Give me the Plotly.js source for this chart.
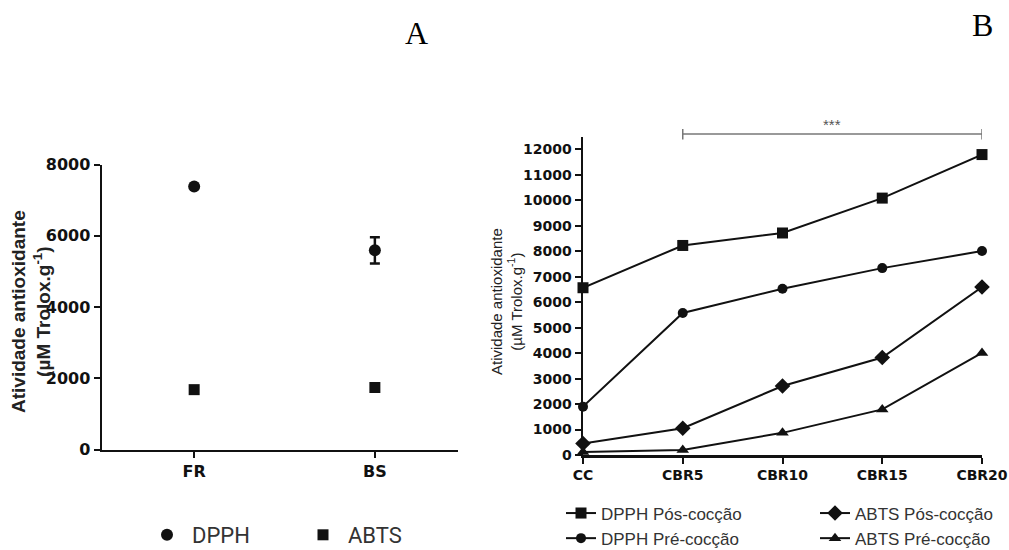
<!DOCTYPE html>
<html>
<head>
<meta charset="utf-8">
<script src="https://cdn.plot.ly/plotly-3.0.1.min.js"></script>
<style>html,body{margin:0;padding:0;background:#fff;}#chart{width:1009px;height:550px;}</style>
</head>
<body>
<div id="chart"></div>
<script>
// ---- Panel A data ----
const categoriesA = ['FR', 'BS'];
const dpphA = [7380, 5590];
const dpphAErr = [0, 370];
const abtsA = [1680, 1740];

// ---- Panel B data ----
const categoriesB = ['CC', 'CBR5', 'CBR10', 'CBR15', 'CBR20'];
const dpphPos = [6570, 8230, 8720, 10090, 11800];
const dpphPre = [1900, 5580, 6530, 7340, 8010];
const abtsPos = [450, 1050, 2710, 3830, 6600];
const abtsPre = [120, 200, 870, 1790, 4010];

const tickValsA = [0, 2000, 4000, 6000, 8000];
const tickValsB = [0,1000,2000,3000,4000,5000,6000,7000,8000,9000,10000,11000,12000];

const W = 1009, H = 550;
const px = v => v / W;
const py = v => (H - v) / H;

const blk = '#111';
const legFontB = {family: 'Liberation Sans, Arial, sans-serif', size: 17, color: '#333'};
const legFontA = {family: 'Liberation Sans Narrow, Roboto, Liberation Sans, sans-serif', size: 22, color: '#333'};

const traces = [
  {x: categoriesA, y: dpphA, type: 'scatter', mode: 'markers', name: 'DPPH',
   xaxis: 'x', yaxis: 'y', legend: 'legend',
   marker: {symbol: 'circle', size: 12, color: blk},
   error_y: {type: 'data', array: dpphAErr, visible: true, color: blk, thickness: 2.5, width: 5},
   cliponaxis: false},
  {x: categoriesA, y: abtsA, type: 'scatter', mode: 'markers', name: 'ABTS',
   xaxis: 'x', yaxis: 'y', legend: 'legend2',
   marker: {symbol: 'square', size: 11, color: blk}, cliponaxis: false},

  {x: categoriesB, y: dpphPos, type: 'scatter', mode: 'lines+markers', name: 'DPPH Pós-cocção',
   xaxis: 'x2', yaxis: 'y2', legend: 'legend3', legendgroup: 'g1',
   line: {color: blk, width: 2}, marker: {symbol: 'square', size: 11, color: blk}, cliponaxis: false},
  {x: categoriesB, y: dpphPre, type: 'scatter', mode: 'lines+markers', name: 'DPPH Pré-cocção',
   xaxis: 'x2', yaxis: 'y2', legend: 'legend3', legendgroup: 'g2',
   line: {color: blk, width: 2}, marker: {symbol: 'circle', size: 10, color: blk}, cliponaxis: false},
  {x: categoriesB, y: abtsPos, type: 'scatter', mode: 'lines+markers', name: 'ABTS Pós-cocção',
   xaxis: 'x2', yaxis: 'y2', legend: 'legend4', legendgroup: 'g3',
   line: {color: blk, width: 2}, marker: {symbol: 'diamond', size: 12, color: blk}, cliponaxis: false},
  {x: categoriesB, y: abtsPre, type: 'scatter', mode: 'lines+markers', name: 'ABTS Pré-cocção',
   xaxis: 'x2', yaxis: 'y2', legend: 'legend4', legendgroup: 'g4',
   line: {color: blk, width: 2}, marker: {symbol: 'triangle-up', size: 11, color: blk}, cliponaxis: false}
];

const tickFontA = {family: 'DejaVu Sans, sans-serif', size: 16, color: '#111', weight: 'bold'};
const tickFontB = {family: 'DejaVu Sans, sans-serif', size: 14, color: '#111', weight: 'bold'};

const axisCommon = {showline: true, linecolor: blk, linewidth: 2.5, ticks: 'outside', ticklen: 6,
  tickwidth: 2, tickcolor: blk, showgrid: false, zeroline: false, fixedrange: true};

const legendBase = {orientation: 'v', bgcolor: 'rgba(0,0,0,0)', borderwidth: 0,
  xanchor: 'left', yanchor: 'middle', tracegroupgap: 0, itemclick: false};

const layout = {
  width: W, height: H,
  margin: {l: 0, r: 0, t: 0, b: 0, autoexpand: false},
  paper_bgcolor: '#fff', plot_bgcolor: '#fff',
  showlegend: true,
  xaxis: Object.assign({}, axisCommon, {
    type: 'category', categoryorder: 'array', categoryarray: categoriesA,
    range: [-0.51, 1.46], domain: [px(102), px(458)], anchor: 'y',
    tickfont: tickFontA}),
  yaxis: Object.assign({}, axisCommon, {
    range: [0, 8000], tickvals: tickValsA, tickformat: 'd', domain: [py(449.5), py(164.5)], anchor: 'x',
    tickfont: tickFontA}),
  xaxis2: Object.assign({}, axisCommon, {
    type: 'category', categoryorder: 'array', categoryarray: categoriesB,
    range: [0, 4], domain: [px(583), px(982)], anchor: 'y2',
    tickfont: tickFontB}),
  yaxis2: Object.assign({}, axisCommon, {
    range: [0, 12490], tickvals: tickValsB, tickformat: 'd', domain: [py(455), py(137)], anchor: 'x2',
    tickfont: tickFontB}),
  legend: Object.assign({}, legendBase, {x: px(142), y: py(535), font: legFontA, itemwidth: 40}),
  legend2: Object.assign({}, legendBase, {x: px(298), y: py(535), font: legFontA, itemwidth: 40}),
  legend3: Object.assign({}, legendBase, {x: px(561), y: py(526), font: legFontB}),
  legend4: Object.assign({}, legendBase, {x: px(815), y: py(526), font: legFontB}),
  shapes: [
    {type: 'line', xref: 'x2', yref: 'paper', x0: 1, x1: 4, y0: py(134), y1: py(134),
     line: {color: '#777', width: 1.5}},
    {type: 'line', xref: 'x2', yref: 'paper', x0: 1, x1: 1, y0: py(129), y1: py(139.5),
     line: {color: '#777', width: 1.5}},
    {type: 'line', xref: 'x2', yref: 'paper', x0: 4, x1: 4, y0: py(129), y1: py(139.5),
     line: {color: '#777', width: 1.5}}
  ],
  annotations: [
    {text: 'A', xref: 'paper', yref: 'paper', x: px(416.5), y: py(33), xanchor: 'center', yanchor: 'middle',
     showarrow: false, font: {family: 'Liberation Serif, Times New Roman, serif', size: 32, color: '#000'}},
    {text: 'B', xref: 'paper', yref: 'paper', x: px(982.5), y: py(25), xanchor: 'center', yanchor: 'middle',
     showarrow: false, font: {family: 'Liberation Serif, Times New Roman, serif', size: 32, color: '#000'}},
    {text: '***', xref: 'x2', yref: 'paper', x: 2.5, y: py(124), xanchor: 'center', yanchor: 'middle',
     showarrow: false, font: {family: 'Liberation Sans, Arial, sans-serif', size: 15, color: '#555'}},
    {text: '<b>Atividade antioxidante<br>(µM Trolox.g<sup>-1</sup>)</b>', xref: 'paper', yref: 'paper',
     x: px(31), y: py(312), xanchor: 'center', yanchor: 'middle', textangle: -90, showarrow: false,
     font: {family: 'Liberation Sans, Arial, sans-serif', size: 19, color: '#222'}},
    {text: 'Atividade antioxidante<br>(µM Trolox.g<sup>-1</sup>)', xref: 'paper', yref: 'paper',
     x: px(506), y: py(302), xanchor: 'center', yanchor: 'middle', textangle: -90, showarrow: false,
     font: {family: 'Liberation Sans, Arial, sans-serif', size: 15, color: '#222'}}
  ]
};

Plotly.newPlot('chart', traces, layout, {staticPlot: true, displayModeBar: false});
</script>
</body>
</html>
